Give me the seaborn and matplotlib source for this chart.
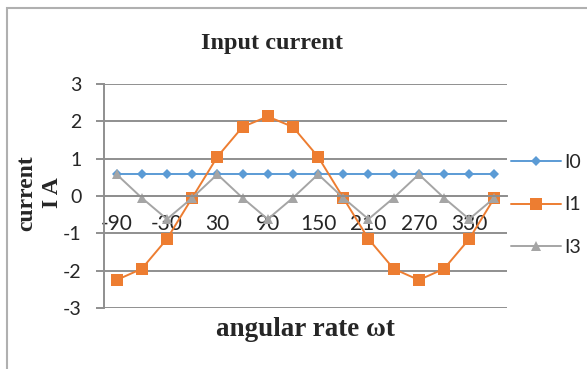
import matplotlib
matplotlib.use('Agg')
import matplotlib.pyplot as plt
from matplotlib.patches import Rectangle
import seaborn as sns
import pandas as pd

# ── data ──────────────────────────────────────────────────────────────────────
angles = [-90, -60, -30, 0, 30, 60, 90, 120, 150, 180, 210, 240, 270, 300, 330, 360]
i0 = [0.58] * 16
i1 = [-2.25, -1.95, -1.15, -0.05, 1.05, 1.85, 2.13, 1.85, 1.05, -0.05,
      -1.15, -1.95, -2.25, -1.95, -1.15, -0.05]
i3 = [0.58, -0.05, -0.62, -0.05, 0.58, -0.05, -0.62, -0.05, 0.58, -0.05,
      -0.62, -0.05, 0.58, -0.05, -0.62, -0.05]
series_names = ['I0', 'I1', 'I3']
yticks = [-3, -2, -1, 0, 1, 2, 3]

df = pd.DataFrame({'angle': angles * 3,
                   'value': i0 + i1 + i3,
                   'series': [s for s in series_names for _ in angles]})

colors  = {'I0': '#5B9BD5', 'I1': '#ED7D31', 'I3': '#A5A5A5'}
markers = {'I0': 'D', 'I1': 's', 'I3': '^'}
msizes  = {'I0': 5.5, 'I1': 8, 'I3': 7}

# ── plot ──────────────────────────────────────────────────────────────────────
sns.set_style('white')
plt.rcParams['font.family'] = ['Lato', 'DejaVu Sans']

fig = plt.figure(figsize=(5.87, 3.69), dpi=100)
ax = fig.add_axes([104/587, 1 - 308/369, (507-104)/587, (308-84)/369])

for name in series_names:
    sns.lineplot(data=df[df['series'] == name], x='angle', y='value',
                 color=colors[name], marker=markers[name], markersize=msizes[name],
                 markeredgewidth=0, linewidth=1.4, label=name, ax=ax)

grid_c = '#8f8f8f'
ax.set_ylim(-3, 3)
ax.set_xlim(-105, 375)
ax.set_yticks(yticks)
ax.set_yticklabels([str(v) for v in yticks])
ax.yaxis.grid(True, color=grid_c, linewidth=1.4)
ax.set_axisbelow(True)

ax.set_xticks(angles)
ax.set_xticklabels([str(a) if k % 2 == 0 else '' for k, a in enumerate(angles)])
ax.tick_params(axis='x', length=0, pad=13, labelsize=15)
ax.tick_params(axis='y', length=6, width=1.4, color=grid_c, direction='out', pad=10,
               left=True, labelsize=14)

for s in ['top', 'right']:
    ax.spines[s].set_visible(False)
ax.spines['bottom'].set_position(('data', 0))
ax.spines['bottom'].set_color(grid_c)
ax.spines['bottom'].set_linewidth(1.4)
ax.spines['left'].set_color(grid_c)
ax.spines['left'].set_linewidth(1.4)

ax.set_xlabel('')
ax.set_ylabel('')
serif = ['Liberation Serif', 'DejaVu Serif']
fig.text(272/587, 1 - 43/369, 'Input current', ha='center', va='center',
         fontsize=17.5, fontweight='bold', family=serif)
fig.text(305/587, 1 - 329/369, 'angular rate ωt', ha='center', va='center',
         fontsize=19.5, fontweight='bold', family=serif)
fig.text(40/587, 1 - 193/369, 'current\nI A', ha='center', va='center',
         rotation=90, fontsize=17, fontweight='bold', family=serif, linespacing=1.3)

ax.legend(loc='center left', bbox_to_anchor=(1.0, 0.46), frameon=False,
          fontsize=14, handlelength=2.6, labelspacing=1.3, handletextpad=0.15,
          borderaxespad=0.0, borderpad=0.2)

fig.patches.append(Rectangle((7/587, -0.1), 1.2, 1.1 - 8/369, transform=fig.transFigure,
                             fill=False, edgecolor='#b0b0b0', linewidth=1.5))

fig.savefig('out.png', dpi=100)
